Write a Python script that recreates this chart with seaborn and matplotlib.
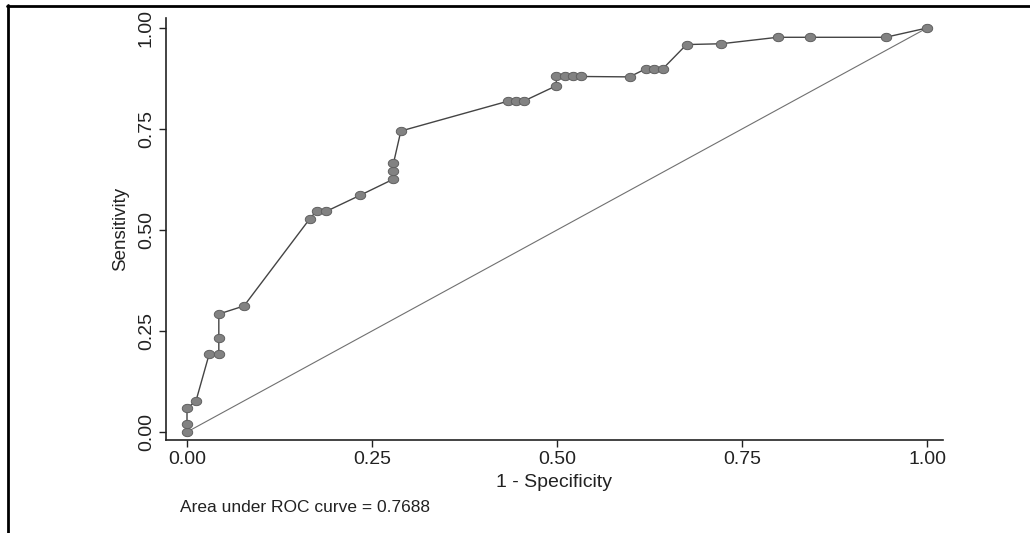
import matplotlib
matplotlib.use("Agg")
import matplotlib.pyplot as plt
import seaborn as sns
import pandas as pd
import numpy as np
from matplotlib.lines import Line2D

# ROC curve points (1 - specificity, sensitivity)
fpr = [0.0, 0.0, 0.0, 0.012, 0.030, 0.043, 0.043, 0.043, 0.077,
       0.166, 0.175, 0.188, 0.234, 0.279, 0.279, 0.279, 0.289,
       0.434, 0.444, 0.455, 0.499, 0.499, 0.511, 0.522, 0.532,
       0.598, 0.620, 0.631, 0.643, 0.675, 0.722, 0.798, 0.842, 0.944, 1.0]
sens = [0.0, 0.019, 0.059, 0.076, 0.193, 0.193, 0.232, 0.292, 0.312,
        0.528, 0.547, 0.546, 0.586, 0.626, 0.646, 0.665, 0.745,
        0.819, 0.819, 0.819, 0.857, 0.880, 0.880, 0.880, 0.880,
        0.879, 0.899, 0.899, 0.899, 0.959, 0.961, 0.977, 0.977, 0.977, 1.0]
ref_x = [0.0, 1.0]
ref_y = [0.0, 1.0]
tick_vals = [0.0, 0.25, 0.5, 0.75, 1.0]
tick_labels = ["0.00", "0.25", "0.50", "0.75", "1.00"]
x_label = "1 - Specificity"
y_label = "Sensitivity"
auc_text = "Area under ROC curve = 0.7688"

sns.set_theme(style="white")
plt.rcParams['font.family'] = ['Liberation Sans', 'DejaVu Sans']

fig = plt.figure(figsize=(10.3, 5.33), dpi=100)
ax = fig.add_axes([166 / 1030, 1 - 440 / 533, (943 - 166) / 1030, (440 - 18) / 533])

df = pd.DataFrame({"fpr": fpr, "sens": sens})
ref = pd.DataFrame({"x": ref_x, "y": ref_y})

# slightly flattened circle marker, like the scanned dots
_t = np.linspace(0, 2 * np.pi, 40)
ellipse_marker = np.column_stack([1.25 * np.cos(_t), np.sin(_t)])

sns.lineplot(data=ref, x="x", y="y", ax=ax, color="#707070", linewidth=0.8,
             sort=False, estimator=None)
sns.lineplot(data=df, x="fpr", y="sens", ax=ax, color="#444444", linewidth=1.0,
             sort=False, estimator=None, marker=ellipse_marker, markersize=7.5,
             markerfacecolor="#828282", markeredgecolor="#606060",
             markeredgewidth=0.7)

ax.set_xlim((166 - 187) / 740, (943 - 187) / 740)
ax.set_ylim((432 - 440) / 404, (432 - 18) / 404)

ax.set_xticks(tick_vals)
ax.set_xticklabels(tick_labels)
ax.set_yticks(tick_vals)
ax.set_yticklabels(tick_labels, rotation=90, va="center")

for s in ["top", "right"]:
    ax.spines[s].set_visible(False)
for s in ["left", "bottom"]:
    ax.spines[s].set_color("#222222")
    ax.spines[s].set_linewidth(1.2)

ax.tick_params(axis="both", which="major", direction="out", length=5, width=1,
               color="#222222", labelsize=14, labelcolor="#222222", pad=3,
               bottom=True, left=True)

ax.set_xlabel(x_label, fontsize=14, color="#222222", labelpad=4)
ax.set_ylabel(y_label, fontsize=13.5, color="#222222", labelpad=6)

fig.text(180 / 1030, 1 - 508 / 533, auc_text, fontsize=12.5, color="#222222",
         ha="left", va="center")

# scan frame lines (top and left)
fig.add_artist(Line2D([7 / 1030, 1.0], [1 - 5.5 / 533, 1 - 5.5 / 533],
                      transform=fig.transFigure, color="black", linewidth=2.0))
fig.add_artist(Line2D([7.5 / 1030, 7.5 / 1030], [0.0, 1 - 5.0 / 533],
                      transform=fig.transFigure, color="black", linewidth=2.0))

fig.savefig("out.png", dpi=100, facecolor="white")
